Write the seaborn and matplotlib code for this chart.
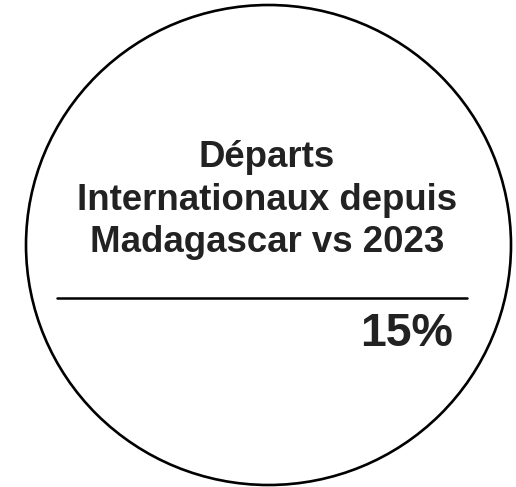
import matplotlib.pyplot as plt
import seaborn as sns
from matplotlib.patches import Ellipse

# --- data ---
title_lines = ["Départs", "Internationaux depuis", "Madagascar vs 2023"]
kpi_value = "15%"

sns.set_style("white")
plt.rcParams['font.family'] = ['Liberation Sans', 'DejaVu Sans']

fig = plt.figure(figsize=(5.16, 4.87), dpi=100)
ax = fig.add_axes([0, 0, 1, 1])
ax.set_xlim(0, 516)
ax.set_ylim(487, 0)
ax.axis('off')

# outer circle
ax.add_patch(Ellipse((268.5, 245), 485, 480, fill=False,
                     edgecolor='black', linewidth=1.9))

# title block
ax.text(267, 200, "\n".join(title_lines), ha='center', va='center',
        fontsize=26.4, fontweight='bold', color='#222222', linespacing=1.27)

# separator line
ax.plot([57, 467], [298, 298], color='black', linewidth=1.8)

# kpi value
ax.text(453, 346, kpi_value, ha='right', va='baseline',
        fontsize=33.5, fontweight='bold', color='#222222')

plt.savefig('out.png', dpi=100)
